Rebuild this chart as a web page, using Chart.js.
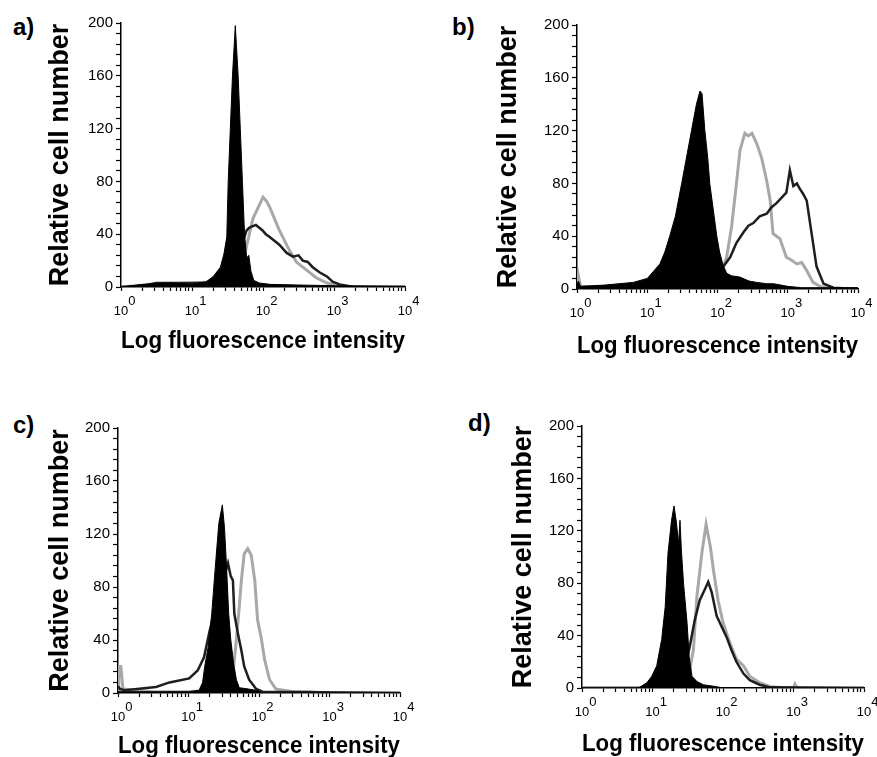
<!DOCTYPE html>
<html>
<head>
<meta charset="utf-8">
<script src="https://cdn.jsdelivr.net/npm/chart.js@4.4.0/dist/chart.umd.min.js"></script>
<style>
  html, body { margin: 0; padding: 0; background: #fff; overflow: hidden; }
  body { width: 877px; height: 757px; position: relative; }
  canvas { position: absolute; }
  .tag { position: absolute; font: bold 24px "Liberation Sans", Arial, sans-serif; line-height: 1; color: #000; }
</style>
</head>
<body>
<div class="tag" style="left:13px;top:15px">a)</div>
<div class="tag" style="left:452px;top:15px">b)</div>
<div class="tag" style="left:13px;top:413px">c)</div>
<div class="tag" style="left:468px;top:411px">d)</div>
<canvas id="panel-a" width="440" height="380" style="left:0;top:0"></canvas>
<canvas id="panel-b" width="437" height="380" style="left:440px;top:0"></canvas>
<canvas id="panel-c" width="440" height="390" style="left:0;top:380px"></canvas>
<canvas id="panel-d" width="437" height="390" style="left:440px;top:380px"></canvas>
<script>
// x values are log10 of fluorescence intensity (0 = 10^0 ... 4 = 10^4)
const aBlackX = [0, 0.3, 0.7, 1.0, 1.2, 1.3, 1.4, 1.45, 1.49, 1.51, 1.54, 1.57, 1.61, 1.65, 1.68, 1.71, 1.74, 1.77, 1.8, 1.83, 1.87, 1.95, 2.1, 2.5, 3.0, 4.0];
const aBlackY = [0, 2, 3, 2, 4, 8, 15, 25, 38, 80, 120, 160, 198, 160, 120, 80, 40, 22, 24, 12, 5, 3, 2, 1.5, 1, 0.5];
const aGrayX = [0, 0.5, 1.0, 1.3, 1.5, 1.6, 1.67, 1.73, 1.79, 1.86, 1.93, 2.0, 2.05, 2.09, 2.16, 2.23, 2.35, 2.47, 2.61, 2.75, 2.9, 3.08, 3.3, 4.0];
const aGrayY = [0, 2, 3, 4, 5, 7, 11, 22, 36, 52, 60, 68, 65, 61, 52, 43, 30, 19, 13, 7, 3, 1, 0, 0];
const aDarkX = [0, 0.3, 0.5, 0.9, 1.2, 1.4, 1.55, 1.65, 1.71, 1.77, 1.81, 1.9, 1.99, 2.04, 2.09, 2.16, 2.23, 2.33, 2.42, 2.5, 2.56, 2.63, 2.7, 2.8, 2.9, 2.98, 3.08, 3.18, 3.27, 4.0];
const aDarkY = [0, 1, 3, 3, 3, 6, 15, 25, 33, 43, 45, 47, 43, 40, 38, 35, 32, 26, 23, 24, 20, 19, 15, 11, 8, 4, 2, 1, 0, 0];

const bBlackX = [0, 0.02, 0.05, 0.4, 0.8, 1.0, 1.18, 1.25, 1.32, 1.4, 1.49, 1.56, 1.63, 1.7, 1.75, 1.78, 1.82, 1.86, 1.89, 1.94, 1.99, 2.03, 2.08, 2.13, 2.2, 2.32, 2.45, 2.56, 2.7, 2.8, 3.0, 3.2, 3.5, 4.0];
const bBlackY = [4, 6, 2, 3, 5, 8, 19, 28, 40, 55, 80, 100, 120, 140, 150, 148, 120, 100, 80, 60, 40, 28, 18, 12, 10, 9, 6, 5, 4, 4, 2, 1, 1, 1];
const bGrayX = [0, 0.02, 0.05, 0.5, 1.0, 1.5, 1.9, 2.05, 2.13, 2.2, 2.27, 2.32, 2.39, 2.44, 2.49, 2.56, 2.63, 2.7, 2.75, 2.79, 2.84, 2.89, 2.98, 3.05, 3.13, 3.2, 3.27, 3.36, 3.46, 3.6, 4.0];
const bGrayY = [0, 10, 2, 1, 1, 2, 5, 12, 24, 47, 80, 105, 118, 116, 118, 110, 99, 82, 67, 42, 40, 38, 24, 22, 19, 20, 14, 5, 2, 0, 0];
const bDarkX = [0, 0.5, 1.0, 1.5, 1.8, 1.95, 2.04, 2.11, 2.18, 2.27, 2.37, 2.44, 2.51, 2.6, 2.7, 2.77, 2.84, 2.91, 2.98, 3.03, 3.08, 3.13, 3.17, 3.22, 3.27, 3.34, 3.41, 3.51, 3.65, 4.0];
const bDarkY = [0, 1, 2, 3, 6, 9, 14, 19, 24, 35, 43, 48, 50, 55, 57, 62, 65, 69, 73, 90, 78, 80, 76, 72, 67, 42, 17, 4, 1, 0];

const cBlackX = [0, 0.5, 1.0, 1.15, 1.2, 1.23, 1.28, 1.33, 1.38, 1.43, 1.48, 1.51, 1.54, 1.57, 1.6, 1.64, 1.68, 1.72, 1.85, 1.96, 2.05, 4.0];
const cBlackY = [1, 1, 1, 2, 8, 20, 35, 60, 95, 128, 142, 125, 95, 60, 40, 22, 10, 4, 3, 2, 0, 0];
const cGrayX = [0, 0.01, 0.04, 0.07, 0.5, 1.0, 1.3, 1.53, 1.63, 1.67, 1.72, 1.75, 1.79, 1.84, 1.89, 1.94, 1.98, 2.03, 2.08, 2.15, 2.24, 2.48, 2.72, 3.0, 4.0];
const cGrayY = [0, 20, 20, 3, 1, 1, 2, 6, 15, 35, 65, 85, 105, 109, 104, 85, 55, 42, 25, 10, 3, 1, 1, 0, 0];
const cDarkX = [0, 0.03, 0.1, 0.54, 0.73, 1.01, 1.13, 1.22, 1.30, 1.39, 1.49, 1.56, 1.6, 1.63, 1.65, 1.70, 1.75, 1.79, 1.86, 1.96, 2.05, 4.0];
const cDarkY = [5, 3, 2, 4.5, 8, 11, 17, 27, 47, 65, 85, 98, 88, 85, 60, 45, 32, 20, 10, 3, 1, 0];

const dBlackX = [0, 0.8, 0.92, 0.99, 1.06, 1.13, 1.18, 1.22, 1.27, 1.305, 1.34, 1.37, 1.39, 1.41, 1.44, 1.49, 1.52, 1.56, 1.63, 1.72, 1.91, 2.0, 4.0];
const dBlackY = [0, 0, 4, 9, 17, 37, 62, 103, 128, 139, 126, 110, 128, 105, 80, 50, 24, 9, 5, 2.5, 1, 0, 0];
const dGrayX = [0, 1.2, 1.39, 1.51, 1.58, 1.63, 1.70, 1.76, 1.82, 1.87, 1.93, 2.0, 2.1, 2.19, 2.29, 2.38, 2.52, 2.67, 2.9, 3.0, 3.02, 3.05, 3.2, 4.0];
const dGrayY = [0, 0, 4, 9, 29, 70, 103, 125, 108, 88, 67, 50, 34, 22, 17, 9, 4, 1, 0, 0, 3, 0, 0, 0];
const dDarkX = [0, 1.2, 1.29, 1.44, 1.53, 1.60, 1.67, 1.74, 1.79, 1.84, 1.91, 1.98, 2.05, 2.12, 2.19, 2.29, 2.38, 2.52, 2.67, 4.0];
const dDarkY = [0, 0, 4, 11, 32, 52, 67, 75, 81, 73, 55, 47, 39, 29, 20, 11, 6, 2.5, 0.5, 0];

const minorSteps = [0.301, 0.477, 0.602, 0.699, 0.778, 0.845, 0.903, 0.954];

const xTickValues = [];
for (let d = 0; d < 4; d++) {
    xTickValues.push(d);
    minorSteps.forEach(m => xTickValues.push(d + m));
}
xTickValues.push(4);

const FONT = '"Liberation Sans", Arial, sans-serif';

function pts(xs, ys) {
    return xs.map((x, i) => ({ x: x, y: ys[i] }));
}

function createPanel(canvasId, black, gray, dark, box) {
    const ctx = document.getElementById(canvasId).getContext('2d');
    return new Chart(ctx, {
        type: 'line',
        data: {
            datasets: [
                { data: black, borderColor: '#000', backgroundColor: '#000', borderWidth: 1, fill: 'origin' },
                { data: dark, borderColor: '#1e1e1e', borderWidth: 2.5, fill: false },
                { data: gray, borderColor: '#a8a8a8', borderWidth: 3, fill: false }
            ]
        },
        options: {
            responsive: false,
            animation: false,
            events: [],
            elements: { point: { radius: 0 }, line: { tension: 0 } },
            layout: { padding: { left: box.left, top: box.top, right: box.right, bottom: box.bottom } },
            plugins: { legend: { display: false }, tooltip: { enabled: false } },
            scales: {
                x: {
                    type: 'linear',
                    min: 0,
                    max: 4,
                    border: { display: true, color: '#000', width: 1.5 },
                    grid: { drawOnChartArea: false, drawTicks: true, tickLength: 4, tickColor: '#000', tickWidth: 1.2 },
                    afterBuildTicks: (scale) => {
                        scale.ticks = xTickValues.map(v => ({ value: v }));
                    },
                    afterFit: (scale) => {
                        scale.height = box.xHeight;
                        scale.paddingLeft = 0;
                        scale.paddingRight = 0;
                    },
                    ticks: {
                        autoSkip: false,
                        maxRotation: 0,
                        padding: 6,
                        color: '#000',
                        font: { family: FONT, size: 13, lineHeight: 0.75 },
                        // exponent on its own line, shifted right of "10"
                        callback: (value) => Number.isInteger(value)
                            ? ['      ' + value, '10']
                            : ''
                    },
                    title: {
                        display: true,
                        text: 'Log fluorescence intensity',
                        color: '#000',
                        padding: 0,
                        font: { family: FONT, size: 24, weight: 'bold', lineHeight: 1.2 }
                    }
                },
                y: {
                    min: 0,
                    max: 200,
                    border: { display: true, color: '#000', width: 1.5 },
                    grid: { drawOnChartArea: false, drawTicks: true, tickLength: 5, tickColor: '#000', tickWidth: 1.2 },
                    afterFit: (scale) => {
                        scale.width = box.yWidth;
                        scale.paddingTop = 0;
                        scale.paddingBottom = 0;
                    },
                    ticks: {
                        stepSize: 8,
                        autoSkip: false,
                        padding: 3,
                        color: '#000',
                        font: { family: FONT, size: 15 },
                        callback: (value) => (value % 40 === 0 ? value : '')
                    },
                    title: {
                        display: true,
                        text: 'Relative cell number',
                        color: '#000',
                        padding: 0,
                        font: { family: FONT, size: 27, weight: 'bold', lineHeight: 1.2 }
                    }
                }
            }
        }
    });
}

createPanel('panel-a', pts(aBlackX, aBlackY), pts(aGrayX, aGrayY), pts(aDarkX, aDarkY),
    { left: 44, top: 23, right: 35, bottom: 24, yWidth: 77, xHeight: 69 });
createPanel('panel-b', pts(bBlackX, bBlackY), pts(bGrayX, bGrayY), pts(bDarkX, bDarkY),
    { left: 52, top: 25, right: 19, bottom: 19, yWidth: 85, xHeight: 72 });
createPanel('panel-c', pts(cBlackX, cBlackY), pts(cGrayX, cGrayY), pts(cDarkX, cDarkY),
    { left: 44, top: 48, right: 40, bottom: 9, yWidth: 74, xHeight: 68 });
createPanel('panel-d', pts(dBlackX, dBlackY), pts(dGrayX, dGrayY), pts(dDarkX, dDarkY),
    { left: 67, top: 46, right: 13, bottom: 11, yWidth: 75, xHeight: 71 });
</script>
</body>
</html>
